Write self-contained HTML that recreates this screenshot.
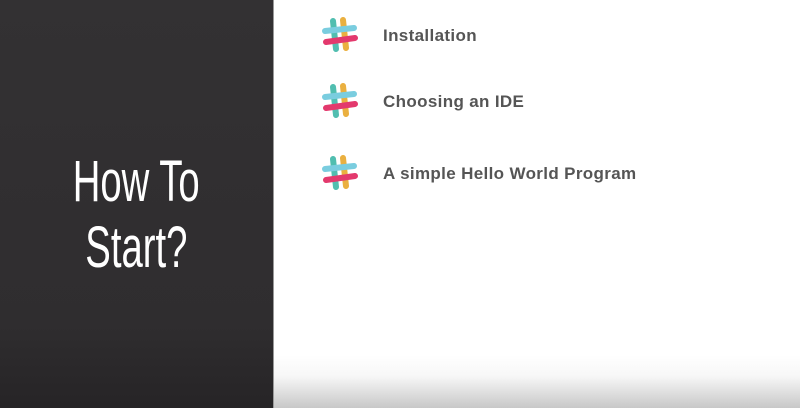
<!DOCTYPE html>
<html><head><style>
body{margin:0;width:800px;height:408px;overflow:hidden;position:relative;background:#fff;font-family:"Liberation Sans",sans-serif}
#left{position:absolute;left:0;top:0;width:273px;height:408px;background:linear-gradient(#333133,#2f2d2f 80%,#262426);border-right:1px solid #999}
.t{position:absolute;left:0;width:273px;text-align:center;color:#fff;font-size:58px;line-height:58px}
.t span{display:inline-block;transform:scaleX(0.66)}
#bot{position:absolute;left:274px;right:0;top:355px;height:53px;background:linear-gradient(#fff,#f7f7f7 40%,#c8c8c8)}
.it{position:absolute;left:383px;font-weight:bold;font-size:17px;letter-spacing:0.35px;color:#555}
.ic{position:absolute;left:321px}
</style></head><body>
<div id="left">
<div class="t" style="top:153px"><span>How To</span></div>
<div class="t" style="top:219px"><span>Start?</span></div>
</div>
<div id="bot"></div>
<svg width="0" height="0" style="position:absolute"><defs>
<g id="h" stroke-linecap="round" stroke-width="6" opacity="0.9">
<line x1="12" y1="4" x2="15" y2="32" stroke="#3fb8a8"/>
<line x1="22" y1="3" x2="25" y2="31" stroke="#e8a82c"/>
<line x1="4" y1="14" x2="33" y2="11" stroke="#6cc8dc"/>
<line x1="5" y1="25" x2="34" y2="21" stroke="#e0245e"/>
</g></defs></svg>
<svg class="ic" style="top:17px" width="38" height="38"><use href="#h"/></svg>
<svg class="ic" style="top:83px" width="38" height="38"><use href="#h"/></svg>
<svg class="ic" style="top:155px" width="38" height="38"><use href="#h"/></svg>
<div class="it" style="top:26px">Installation</div>
<div class="it" style="top:92px">Choosing an IDE</div>
<div class="it" style="top:164px">A simple Hello World Program</div>
</body></html>
